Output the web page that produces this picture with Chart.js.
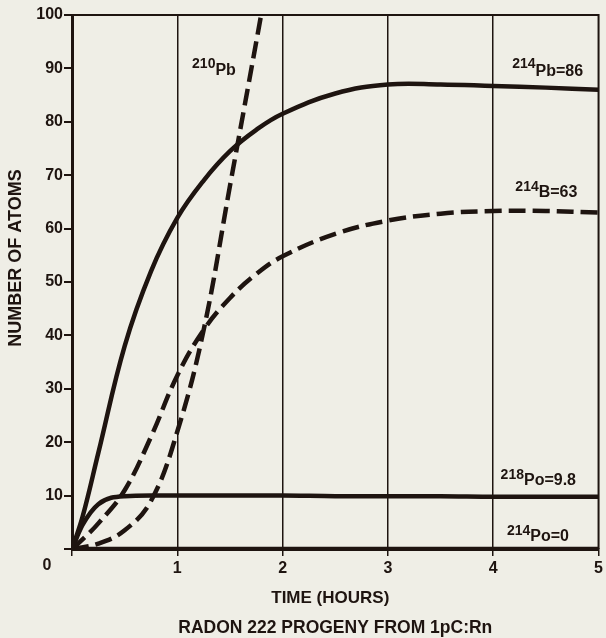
<!DOCTYPE html>
<html>
<head>
<meta charset="utf-8">
<script src="https://cdn.jsdelivr.net/npm/chart.js@4.4.1/dist/chart.umd.min.js"></script>
<style>
    html, body { margin: 0; padding: 0; background: #efeee6; }
    #wrap { width: 606px; height: 638px; }
</style>
</head>
<body>
<div id="wrap"><canvas id="myChart" width="606" height="638"></canvas></div>
<script>
// time axis (hours) shared by most of the curves
var hours = [0, 0.1, 0.25, 0.5, 0.75, 1, 1.25, 1.5, 1.75, 2, 2.5, 3, 3.5, 4, 4.5, 5];
var pb214 = [0, 6, 18, 38, 52, 62, 69, 74.5, 78.5, 81.5, 85.3, 87, 87, 86.7, 86.4, 86];
var bi214 = [0, 1.8, 4.8, 11, 21, 32.5, 41, 47, 51.5, 54.8, 59, 61.5, 62.8, 63.3, 63.3, 63];
var po218 = [0, 4.5, 8.4, 9.9, 10, 10, 10, 10, 10, 10, 9.9, 9.9, 9.9, 9.8, 9.8, 9.8];
var po214 = [0, 0, 0, 0, 0, 0, 0, 0, 0, 0, 0, 0, 0, 0, 0, 0];

// 210Pb runs off the top of the chart, so it has its own time points
var pb210Hours = [0, 0.25, 0.5, 0.75, 1, 1.25, 1.5, 1.75, 1.85];
var pb210 = [0, 1, 3.5, 9, 22, 41, 68, 95, 106];

var xTicks = [0, 1, 2, 3, 4, 5];
var yTicks = [0, 10, 20, 30, 40, 50, 60, 70, 80, 90, 100];

// isotope labels: mass number, rest of label
var isoLabels = [
    ['210', 'Pb'],
    ['214', 'Pb=86'],
    ['214', 'B=63'],
    ['218', 'Po=9.8'],
    ['214', 'Po=0']
];

var INK = '#1e1410';
var FONT = '"Liberation Sans", Arial, sans-serif';

function toPoints(xs, ys) {
    var pts = [];
    for (var i = 0; i < xs.length; i++) {
        pts.push({ x: xs[i], y: ys[i] });
    }
    return pts;
}

function series(data, dashed, monotone) {
    var ds = {
        data: data,
        borderColor: INK,
        borderWidth: 4.5,
        borderDash: dashed ? [17, 7] : [],
        pointRadius: 0,
        fill: false,
        tension: 0.4
    };
    if (monotone) ds.cubicInterpolationMode = 'monotone';
    return ds;
}

// draws "214Pb=86" style text with the mass number raised
function drawIsotope(ctx, x, y, mass, rest, lift) {
    ctx.font = 'bold 14px ' + FONT;
    ctx.textAlign = 'left';
    ctx.textBaseline = 'alphabetic';
    ctx.fillText(mass, x, y - lift);
    var w = ctx.measureText(mass).width;
    ctx.font = 'bold 16px ' + FONT;
    ctx.fillText(rest, x + w, y);
}

var paperPlugin = {
    id: 'paper',
    beforeDraw: function (chart) {
        var ctx = chart.ctx;
        ctx.save();
        ctx.fillStyle = '#efeee6';
        ctx.fillRect(0, 0, chart.width, chart.height);
        ctx.restore();
    },
    afterDraw: function (chart) {
        var ctx = chart.ctx;
        var a = chart.chartArea;
        var xs = chart.scales.x;
        var ys = chart.scales.y;
        ctx.save();
        ctx.strokeStyle = INK;
        // top and right frame
        ctx.lineWidth = 2;
        ctx.beginPath();
        ctx.moveTo(a.left, a.top);
        ctx.lineTo(a.right, a.top);
        ctx.lineTo(a.right, a.bottom);
        ctx.stroke();

        ctx.fillStyle = INK;
        // label anchors in data units: [hours, value, lift]
        var anchors = [[1.14, 88.8, 7], [4.18, 88.6, 8], [4.21, 65.9, 6], [4.07, 12, 6], [4.13, 1.5, 6]];
        for (var i = 0; i < isoLabels.length; i++) {
            drawIsotope(ctx, xs.getPixelForValue(anchors[i][0]), ys.getPixelForValue(anchors[i][1]),
                isoLabels[i][0], isoLabels[i][1], anchors[i][2]);
        }

        // the lone "0" sits under the y labels
        ctx.font = 'bold 16px ' + FONT;
        ctx.textAlign = 'center';
        ctx.textBaseline = 'middle';
        ctx.fillText(String(yTicks[0]), 47, a.bottom + 17);

        var mid = (a.left + a.right) / 2;
        ctx.font = 'bold 17px ' + FONT;
        ctx.fillText('TIME (HOURS)', mid - 5, 598);
        ctx.font = 'bold 17.5px ' + FONT;
        ctx.fillText('RADON 222 PROGENY FROM 1pC:Rn', mid, 628);

        ctx.translate(16, 258);
        ctx.rotate(-Math.PI / 2);
        ctx.font = 'bold 18px ' + FONT;
        ctx.fillText('NUMBER OF ATOMS', 0, 0);
        ctx.restore();
    }
};

function createChart() {
    var ctx = document.getElementById('myChart').getContext('2d');
    new Chart(ctx, {
        type: 'line',
        data: {
            datasets: [
                series(toPoints(hours, pb214), false, false),
                series(toPoints(hours, bi214), true, false),
                series(toPoints(pb210Hours, pb210), true, false),
                series(toPoints(hours, po218), false, true),
                series(toPoints(hours, po214), false, true)
            ]
        },
        options: {
            responsive: false,
            animation: false,
            layout: { padding: { top: 15, right: 4, left: 0, bottom: 0 } },
            plugins: { legend: { display: false }, tooltip: { enabled: false } },
            scales: {
                x: {
                    type: 'linear',
                    min: xTicks[0],
                    max: xTicks[xTicks.length - 1],
                    afterBuildTicks: function (scale) {
                        scale.ticks = xTicks.map(function (v) { return { value: v }; });
                    },
                    afterFit: function (scale) { scale.height = 89; },
                    ticks: {
                        color: INK,
                        padding: 3,
                        maxRotation: 0,
                        font: { family: FONT, size: 16, weight: 'bold' },
                        callback: function (v) { return v === 0 ? '' : v; }
                    },
                    grid: {
                        color: function (c) {
                            return (c.tick && (c.tick.value === 0 || c.tick.value === 5)) ? 'rgba(0,0,0,0)' : INK;
                        },
                        lineWidth: 1.5,
                        tickLength: 7,
                        tickColor: INK
                    },
                    border: { display: true, color: INK, width: 3 }
                },
                y: {
                    min: yTicks[0],
                    max: yTicks[yTicks.length - 1],
                    afterBuildTicks: function (scale) {
                        scale.ticks = yTicks.map(function (v) { return { value: v }; });
                    },
                    afterFit: function (scale) { scale.width = 72; },
                    ticks: {
                        color: INK,
                        padding: 1,
                        font: { family: FONT, size: 16, weight: 'bold' },
                        callback: function (v) { return v === 0 ? '' : v; }
                    },
                    grid: {
                        drawOnChartArea: false,
                        lineWidth: 2,
                        tickLength: 8,
                        tickColor: INK
                    },
                    border: { display: true, color: INK, width: 3 }
                }
            }
        },
        plugins: [paperPlugin]
    });
}

createChart();
</script>
</body>
</html>
